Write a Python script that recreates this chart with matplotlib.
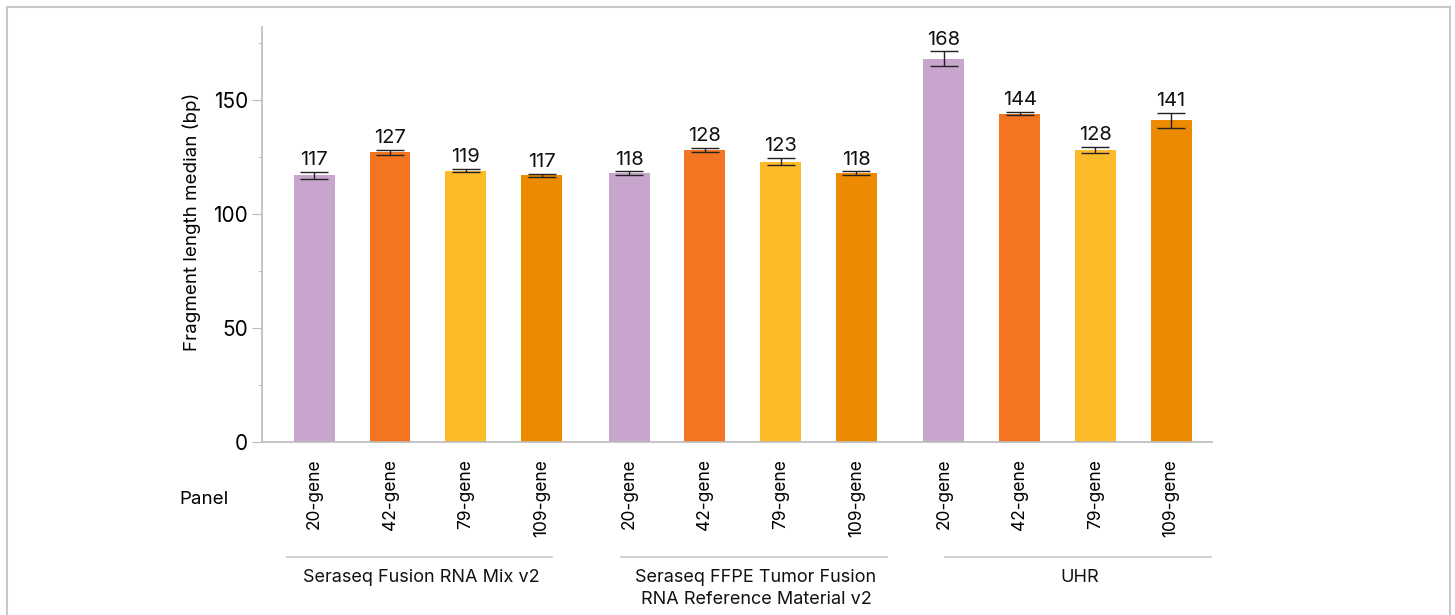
import matplotlib.pyplot as plt
from matplotlib.patches import Rectangle
from matplotlib.ticker import MultipleLocator

plt.rcParams['font.family'] = ['Inter', 'DejaVu Sans']

# median fragment length per panel, one list per sample
panels = ['20-gene', '42-gene', '79-gene', '109-gene']
samples = ['Seraseq Fusion RNA Mix v2',
           'Seraseq FFPE Tumor Fusion\nRNA Reference Material v2',
           'UHR']
medians = [[117, 127, 119, 117],
           [118, 128, 123, 118],
           [168, 144, 128, 141]]
errors = [[1.5, 1.0, 0.7, 0.7],
          [0.7, 1.0, 1.5, 0.7],
          [3.3, 0.8, 1.3, 3.3]]
colors = ['#C8A5CD', '#F47521', '#FDBB2A', '#EC8A02']

group_step = 4.155
bar_w = 0.54
W, H = 1455, 615
# pixel spans of the sample underlines
bracket_px = [(287, 552), (621, 887), (945, 1211)]

fig = plt.figure(figsize=(W / 100, H / 100), dpi=100)
ax = fig.add_axes([262 / W, 1 - 442 / H, 950 / W, 415 / H])
ax.set_xlim(-0.69, 2 * group_step + 3 + 0.54)
ax.set_ylim(0, 182)

# light frame round the whole figure
fig.patches.append(Rectangle((7 / W, -0.1), 1443 / W, 1.1 - 7 / H,
                             transform=fig.transFigure, fill=False,
                             edgecolor='#c8c8c8', linewidth=1.5))

xs_all = []
for g, (vals, errs) in enumerate(zip(medians, errors)):
    xs = [g * group_step + i for i in range(len(panels))]
    xs_all += xs
    ax.bar(xs, vals, width=bar_w, color=colors, zorder=2)
    ax.errorbar(xs, vals, yerr=errs, fmt='none', ecolor='#222222',
                elinewidth=1.0, capsize=10, capthick=1.0, zorder=3)
    for x, v, e in zip(xs, vals, errs):
        ax.annotate(str(v), (x, v + e), xytext=(0, 2), textcoords='offset points',
                    ha='center', va='bottom', fontsize=14.5, color='#111111')

    # sample underline and name below the panel labels
    p0, p1 = bracket_px[g]
    fig.add_artist(plt.Line2D([p0 / W, p1 / W], [1 - 557 / H] * 2,
                              color='#c8c8c8', linewidth=1.2))
    fig.text((p0 + p1) / 2 / W + 2 / W, 1 - 569 / H, samples[g], ha='center', va='top',
             fontsize=13, color='#111111', linespacing=1.35)

ax.set_xticks(xs_all)
ax.set_xticklabels(panels * 3, rotation=90, fontsize=12.5)
ax.tick_params(axis='x', length=0, pad=12)
ax.yaxis.set_major_locator(MultipleLocator(50))
ax.yaxis.set_minor_locator(MultipleLocator(25))
ax.tick_params(axis='y', which='major', length=7, color='#bbbbbb', labelsize=15, pad=3)
ax.tick_params(axis='y', which='minor', length=3, color='#bbbbbb')
ax.set_ylabel('Fragment length median (bp)', fontsize=13.5)
ax.yaxis.set_label_coords(-0.064, 0.53)

for side in ['top', 'right']:
    ax.spines[side].set_visible(False)
for side in ['left', 'bottom']:
    ax.spines[side].set_color('#bbbbbb')
    ax.spines[side].set_linewidth(1.2)

fig.text(204 / W, 1 - 500 / H, 'Panel', ha='center', va='center', fontsize=13.5)

fig.savefig('out.png', dpi=100)
